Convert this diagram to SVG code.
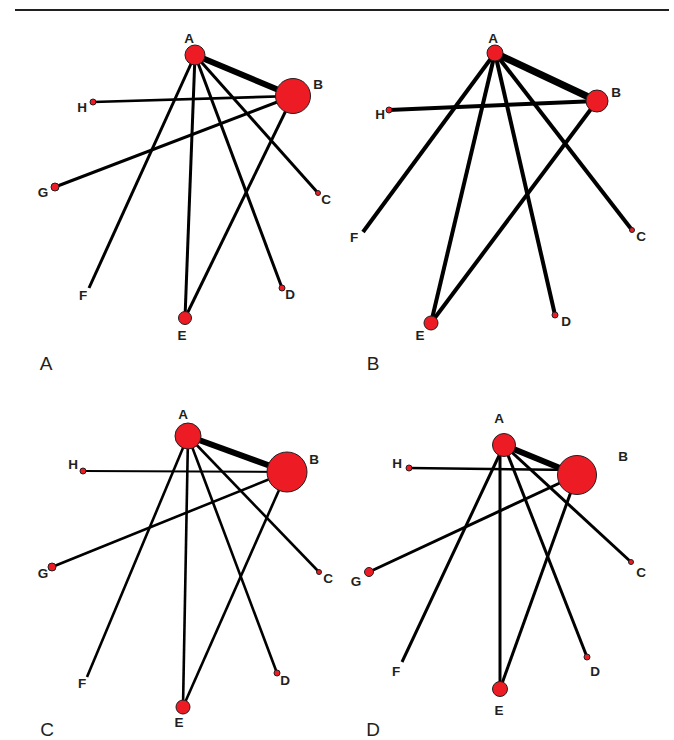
<svg xmlns="http://www.w3.org/2000/svg" width="674" height="740" viewBox="0 0 674 740">
  <style>
    .bg { fill: #ffffff; }
    .rule { stroke: #231f20; stroke-width: 2; }
    .edge { stroke: #000000; fill: none; stroke-linecap: butt; }
    .node { fill: #ed1c24; stroke: #231f20; stroke-width: 1; }
    .lbl { font-family: "Liberation Sans", Arial, sans-serif; font-weight: bold; font-size: 13.5px; fill: #231f20; text-anchor: middle; }
    .panel { font-family: "Liberation Sans", Arial, sans-serif; font-size: 19px; fill: #231f20; text-anchor: middle; }
  </style>
  <rect class="bg" x="0" y="0" width="674" height="740"/>
  <line class="rule" x1="15" y1="10" x2="669" y2="10"/>

  <!-- Panel A -->
  <g id="panelA">
    <g id="panelA-edges" class="edge">
      <line x1="195" y1="55" x2="293" y2="96" stroke-width="6"/>
      <line x1="93" y1="102" x2="293" y2="96" stroke-width="2.6"/>
      <line x1="55" y1="187" x2="293" y2="96" stroke-width="3"/>
      <line x1="195" y1="55" x2="89" y2="288" stroke-width="3"/>
      <line x1="195" y1="55" x2="185" y2="318" stroke-width="3"/>
      <line x1="195" y1="55" x2="282" y2="288" stroke-width="3"/>
      <line x1="195" y1="55" x2="318" y2="193" stroke-width="3"/>
      <line x1="293" y1="96" x2="185" y2="318" stroke-width="3"/>
    </g>
    <g id="panelA-A"><circle class="node" cx="195" cy="55" r="10"/><text class="lbl" x="189" y="43">A</text></g>
    <g id="panelA-B"><circle class="node" cx="293" cy="96" r="17.5"/><text class="lbl" x="318" y="89">B</text></g>
    <g id="panelA-H"><circle class="node" cx="93" cy="102" r="3"/><text class="lbl" x="82" y="112">H</text></g>
    <g id="panelA-G"><circle class="node" cx="55" cy="187" r="4"/><text class="lbl" x="43" y="197">G</text></g>
    <g id="panelA-C"><circle class="node" cx="318" cy="193" r="2.5"/><text class="lbl" x="326" y="204">C</text></g>
    <g id="panelA-F"><text class="lbl" x="83" y="300">F</text></g>
    <g id="panelA-D"><circle class="node" cx="282" cy="288" r="3"/><text class="lbl" x="290" y="299">D</text></g>
    <g id="panelA-E"><circle class="node" cx="185" cy="318" r="6.5"/><text class="lbl" x="182" y="340">E</text></g>
    <text class="panel" x="46" y="370">A</text>
  </g>

  <!-- Panel B -->
  <g id="panelB">
    <g id="panelB-edges" class="edge">
      <line x1="495" y1="53" x2="597" y2="101" stroke-width="7"/>
      <line x1="389" y1="110" x2="597" y2="101" stroke-width="4"/>
      <line x1="495" y1="53" x2="363" y2="232" stroke-width="4"/>
      <line x1="495" y1="53" x2="431" y2="323" stroke-width="4"/>
      <line x1="495" y1="53" x2="555" y2="315" stroke-width="4"/>
      <line x1="495" y1="53" x2="632" y2="230" stroke-width="4"/>
      <line x1="597" y1="101" x2="431" y2="323" stroke-width="4"/>
    </g>
    <g id="panelB-A"><circle class="node" cx="495" cy="53" r="8"/><text class="lbl" x="493" y="43">A</text></g>
    <g id="panelB-B"><circle class="node" cx="597" cy="101" r="11"/><text class="lbl" x="616" y="97">B</text></g>
    <g id="panelB-H"><circle class="node" cx="389" cy="110" r="3"/><text class="lbl" x="380" y="119">H</text></g>
    <g id="panelB-F"><text class="lbl" x="354" y="242">F</text></g>
    <g id="panelB-C"><circle class="node" cx="632" cy="230" r="2.5"/><text class="lbl" x="641" y="241">C</text></g>
    <g id="panelB-D"><circle class="node" cx="555" cy="315" r="3"/><text class="lbl" x="566" y="326">D</text></g>
    <g id="panelB-E"><circle class="node" cx="431" cy="323" r="7"/><text class="lbl" x="420" y="340">E</text></g>
    <text class="panel" x="373" y="370">B</text>
  </g>

  <!-- Panel C -->
  <g id="panelC">
    <g id="panelC-edges" class="edge">
      <line x1="188" y1="436" x2="287" y2="472" stroke-width="6"/>
      <line x1="83" y1="471" x2="287" y2="472" stroke-width="2"/>
      <line x1="52" y1="567" x2="287" y2="472" stroke-width="2.6"/>
      <line x1="188" y1="436" x2="87" y2="677" stroke-width="2.6"/>
      <line x1="188" y1="436" x2="183" y2="707" stroke-width="2.6"/>
      <line x1="188" y1="436" x2="277" y2="673" stroke-width="2.6"/>
      <line x1="188" y1="436" x2="319" y2="572" stroke-width="2.6"/>
      <line x1="287" y1="472" x2="183" y2="707" stroke-width="2.6"/>
    </g>
    <g id="panelC-A"><circle class="node" cx="188" cy="436" r="13"/><text class="lbl" x="183" y="419">A</text></g>
    <g id="panelC-B"><circle class="node" cx="287" cy="472" r="20"/><text class="lbl" x="314" y="464">B</text></g>
    <g id="panelC-H"><circle class="node" cx="83" cy="471" r="3"/><text class="lbl" x="73" y="469">H</text></g>
    <g id="panelC-G"><circle class="node" cx="52" cy="567" r="4"/><text class="lbl" x="43" y="578">G</text></g>
    <g id="panelC-C"><circle class="node" cx="319" cy="572" r="2.5"/><text class="lbl" x="328" y="583">C</text></g>
    <g id="panelC-F"><text class="lbl" x="82" y="688">F</text></g>
    <g id="panelC-D"><circle class="node" cx="277" cy="673" r="3"/><text class="lbl" x="285" y="685">D</text></g>
    <g id="panelC-E"><circle class="node" cx="183" cy="707" r="7"/><text class="lbl" x="179" y="727">E</text></g>
    <text class="panel" x="47" y="736">C</text>
  </g>

  <!-- Panel D -->
  <g id="panelD">
    <g id="panelD-edges" class="edge">
      <line x1="504" y1="445" x2="577" y2="475" stroke-width="6"/>
      <line x1="409" y1="468" x2="577" y2="470" stroke-width="2.6"/>
      <line x1="369" y1="572" x2="577" y2="475" stroke-width="3"/>
      <line x1="504" y1="445" x2="402" y2="662" stroke-width="3"/>
      <line x1="500" y1="445" x2="500" y2="689" stroke-width="3"/>
      <line x1="504" y1="445" x2="587" y2="657" stroke-width="3"/>
      <line x1="504" y1="445" x2="631" y2="562" stroke-width="3"/>
      <line x1="577" y1="475" x2="500" y2="689" stroke-width="3"/>
    </g>
    <g id="panelD-A"><circle class="node" cx="504" cy="445" r="11.5"/><text class="lbl" x="499" y="423">A</text></g>
    <g id="panelD-B"><circle class="node" cx="577" cy="475" r="19.5"/><text class="lbl" x="623" y="461">B</text></g>
    <g id="panelD-H"><circle class="node" cx="409" cy="468" r="3"/><text class="lbl" x="397" y="468">H</text></g>
    <g id="panelD-G"><circle class="node" cx="369" cy="572" r="4.5"/><text class="lbl" x="356" y="586">G</text></g>
    <g id="panelD-C"><circle class="node" cx="631" cy="562" r="2.5"/><text class="lbl" x="641" y="577">C</text></g>
    <g id="panelD-F"><text class="lbl" x="396" y="676">F</text></g>
    <g id="panelD-D"><circle class="node" cx="587" cy="657" r="3"/><text class="lbl" x="595" y="676">D</text></g>
    <g id="panelD-E"><circle class="node" cx="500" cy="689" r="7.5"/><text class="lbl" x="499" y="715">E</text></g>
    <text class="panel" x="373" y="736">D</text>
  </g>
</svg>
